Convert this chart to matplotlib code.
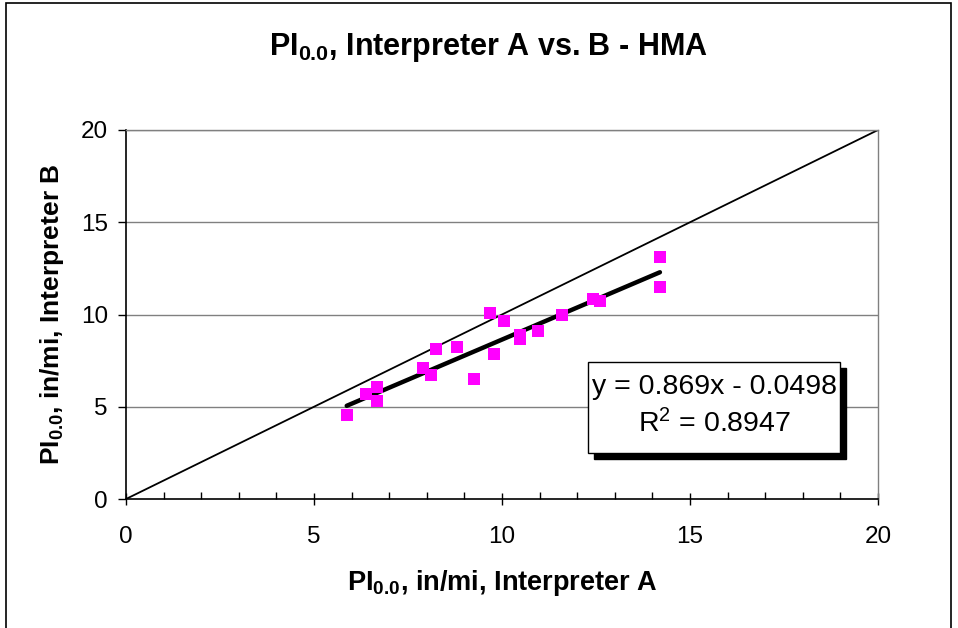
import matplotlib
matplotlib.use("Agg")
import matplotlib.pyplot as plt
from matplotlib.patches import Rectangle
from matplotlib.ticker import MultipleLocator
import numpy as np

plt.rcParams['font.family'] = ['Liberation Sans', 'DejaVu Sans']
plt.rcParams['mathtext.fontset'] = 'custom'
plt.rcParams['mathtext.rm'] = 'Liberation Sans'
plt.rcParams['mathtext.bf'] = 'Liberation Sans:bold'
plt.rcParams['mathtext.it'] = 'Liberation Sans:italic'

# Data (Interpreter A, Interpreter B)
interp_a = [5.87, 6.38, 6.67, 6.67, 7.89, 8.10, 8.25, 8.79, 9.26, 9.69,
            10.06, 9.80, 10.49, 10.49, 10.97, 11.60, 12.41, 12.61, 14.20, 14.20]
interp_b = [4.55, 5.67, 6.09, 5.33, 7.08, 6.70, 8.13, 8.26, 6.52, 10.10,
            9.66, 7.84, 8.87, 8.69, 9.12, 9.97, 10.84, 10.73, 13.13, 11.49]
slope = 0.869
intercept = -0.0498
r_squared = 0.8947
axis_ticks = [0, 5, 10, 15, 20]

W, H = 958, 628
fig = plt.figure(figsize=(W/100, H/100), dpi=100)
ax = fig.add_axes([126/W, 1-499/H, (878-126)/W, (499-130)/H])

ax.set_xlim(0, 20)
ax.set_ylim(0, 20)

# gridlines
for v in axis_ticks[1:]:
    ax.axhline(v, color='#808080', lw=1.0, zorder=1)

# 1:1 line
ax.plot([0, 20], [0, 20], color='black', lw=1.3, zorder=2)

# trendline
xa = np.array(interp_a)
xs = np.array([xa.min(), xa.max()])
ax.plot(xs, slope*xs + intercept, color='black', lw=3.2, solid_capstyle='round', zorder=3)

# points
ax.plot(interp_a, interp_b, linestyle='none', marker='s', ms=8.6,
        color='#FF00FF', mec='#FF00FF', mew=0, zorder=4)

# spines
for s in ['top', 'right']:
    ax.spines[s].set_color('#808080')
    ax.spines[s].set_linewidth(1.0)
for s in ['left', 'bottom']:
    ax.spines[s].set_color('black')
    ax.spines[s].set_linewidth(1.2)

ax.set_xticks(axis_ticks)
ax.set_yticks(axis_ticks)
ax.xaxis.set_minor_locator(MultipleLocator(1))
ax.tick_params(axis='x', which='major', direction='inout', length=9, width=1, pad=15, labelsize=17.5)
ax.tick_params(axis='y', which='major', direction='out', length=6, width=1, pad=7, labelsize=17.5)
ax.tick_params(axis='x', which='minor', direction='in', length=5, width=1)

ax.set_xlabel(r'PI$_{\mathbf{0.0}}$, in/mi, Interpreter A', fontsize=19.5, fontweight='bold', labelpad=14)
ax.set_ylabel(r'PI$_{\mathbf{0.0}}$, in/mi, Interpreter B', fontsize=19, fontweight='bold', labelpad=11)

fig.text(488/W, 1-47/H, r'PI$_{\mathbf{0.0}}$, Interpreter A vs. B - HMA', fontsize=22,
         fontweight='bold', ha='center', va='center')

# equation box with shadow
bx0, by0, bx1, by1 = 588, 362, 840, 453
fig.patches.append(Rectangle((bx0/W + 6/W, 1-by1/H - 6/H), (bx1-bx0)/W, (by1-by0)/H,
                             transform=fig.transFigure, facecolor='black', edgecolor='black', zorder=5))
fig.patches.append(Rectangle((bx0/W, 1-by1/H), (bx1-bx0)/W, (by1-by0)/H,
                             transform=fig.transFigure, facecolor='white', edgecolor='black', lw=1, zorder=6))
sign = '-' if intercept < 0 else '+'
fig.text((bx0+bx1)/2/W, 1-387/H, f'y = {slope:.3f}x {sign} {abs(intercept):.4f}', fontsize=20.5,
         ha='center', va='center', zorder=7)
fig.text((bx0+bx1)/2/W, 1-424/H, f'R$^2$ = {r_squared:.4f}', fontsize=20.5,
         ha='center', va='center', zorder=7)

# outer chart border
fig.patches.append(Rectangle((6/W, -0.01), (951-6)/W, (1-3/H)+0.01, transform=fig.transFigure,
                             facecolor='none', edgecolor='black', lw=1.2, zorder=10))

fig.savefig('out.png', dpi=100)
